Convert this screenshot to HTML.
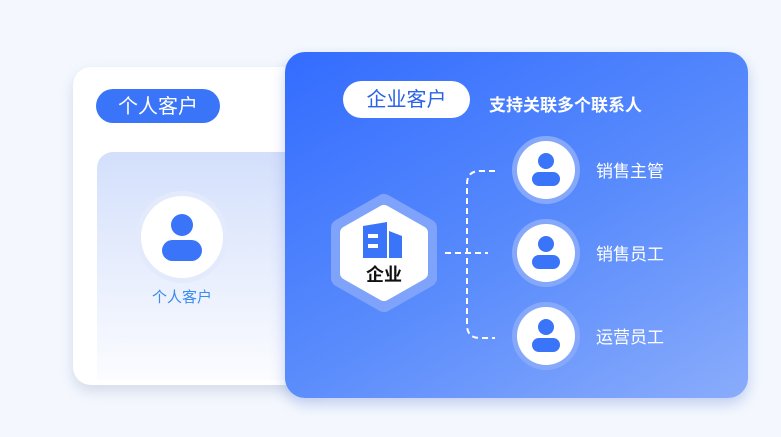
<!DOCTYPE html>
<html><head><meta charset="utf-8"><style>
body{margin:0;width:781px;height:437px;background:#f4f8fe;position:relative;overflow:hidden;font-family:"Liberation Sans","Noto Sans CJK SC",sans-serif}
.a{position:absolute}
</style></head><body>
<div class="a" style="left:73px;top:67px;width:260px;height:318px;background:#fff;border-radius:18px;box-shadow:0 6px 14px rgba(60,80,140,.18)"></div>
<div class="a" style="left:96px;top:89px;width:124px;height:34px;background:#3a74f8;border-radius:17px;color:#fff;font-size:20px;line-height:36px;text-align:center">个人客户</div>
<div class="a" style="left:97px;top:152px;width:220px;height:228px;border-radius:16px 0 0 0;background:linear-gradient(#d3dffb,#fbfcff)"></div>
<div class="a" style="left:136px;top:191px;width:92px;height:92px;border-radius:50%;background:#e3eafc"></div>
<div class="a" style="left:141px;top:196px;width:82px;height:82px;border-radius:50%;background:#fff"></div>
<div class="a" style="left:171px;top:214px;width:22px;height:22px;border-radius:50%;background:#3a74f8"></div>
<div class="a" style="left:162px;top:240px;width:40px;height:21px;border-radius:11px;background:#3a74f8"></div>
<div class="a" style="left:132px;top:286px;width:100px;text-align:center;color:#3a8af0;font-size:15px">个人客户</div>

<div class="a" style="left:285px;top:52px;width:463px;height:346px;border-radius:20px;background:linear-gradient(150deg,#336cff 0%,#5a8cfc 55%,#8aacfb 100%);box-shadow:0 6px 14px rgba(40,80,200,.25)"></div>
<div class="a" style="left:343px;top:81px;width:127px;height:37px;background:#fff;border-radius:19px;color:#2a62e8;font-size:20px;line-height:39px;text-align:center">企业客户</div>
<div class="a" style="left:489px;top:91px;color:#fff;font-size:17px;font-weight:bold">支持关联多个联系人</div>

<svg class="a" style="left:0;top:0" width="781" height="437">
<polygon points="384,203 428,228 428,278 384,303 340,278 340,228" fill="#7fa3fb" stroke="#7fa3fb" stroke-width="18" stroke-linejoin="round"/>
<polygon points="384,212 421,233 421,273 384,294 347,273 347,233" fill="#fff" stroke="#fff" stroke-width="14" stroke-linejoin="round"/>
<path d="M363,226 L387,222 L387,258 L363,258Z" fill="#3a74f8"/>
<path d="M389,231 L402,236 L402,258 L389,258Z" fill="#3a74f8"/>
<rect x="368" y="234" width="10" height="4" fill="#fff"/>
<rect x="368" y="244" width="10" height="4" fill="#fff"/>
<text x="384" y="281" text-anchor="middle" font-size="18" font-weight="bold" fill="#111" font-family="Liberation Sans,Noto Sans CJK SC,sans-serif">企业</text>
<g fill="none" stroke="#fff" stroke-width="2" stroke-dasharray="6,4">
<path d="M445,253 H488"/>
<path d="M495,171 H480 Q467,171 467,184 V325 Q467,338 480,338 H495"/>
</g>
<g>
<circle cx="546" cy="170" r="34" fill="#86a8fb"/><circle cx="546" cy="170" r="29" fill="#fff"/>
<circle cx="546" cy="253" r="34" fill="#86a8fb"/><circle cx="546" cy="253" r="29" fill="#fff"/>
<circle cx="546" cy="336" r="34" fill="#86a8fb"/><circle cx="546" cy="336" r="29" fill="#fff"/>
</g>
<g fill="#3a74f8">
<circle cx="546" cy="161" r="8"/><rect x="532" y="172" width="28" height="14" rx="7"/>
<circle cx="546" cy="244" r="8"/><rect x="532" y="255" width="28" height="14" rx="7"/>
<circle cx="546" cy="327" r="8"/><rect x="532" y="338" width="28" height="14" rx="7"/>
</g>
<g fill="#fff" font-size="17" font-family="Liberation Sans,Noto Sans CJK SC,sans-serif">
<text x="596" y="177">销售主管</text>
<text x="596" y="260">销售员工</text>
<text x="596" y="343">运营员工</text>
</g>
</svg>
</body></html>
